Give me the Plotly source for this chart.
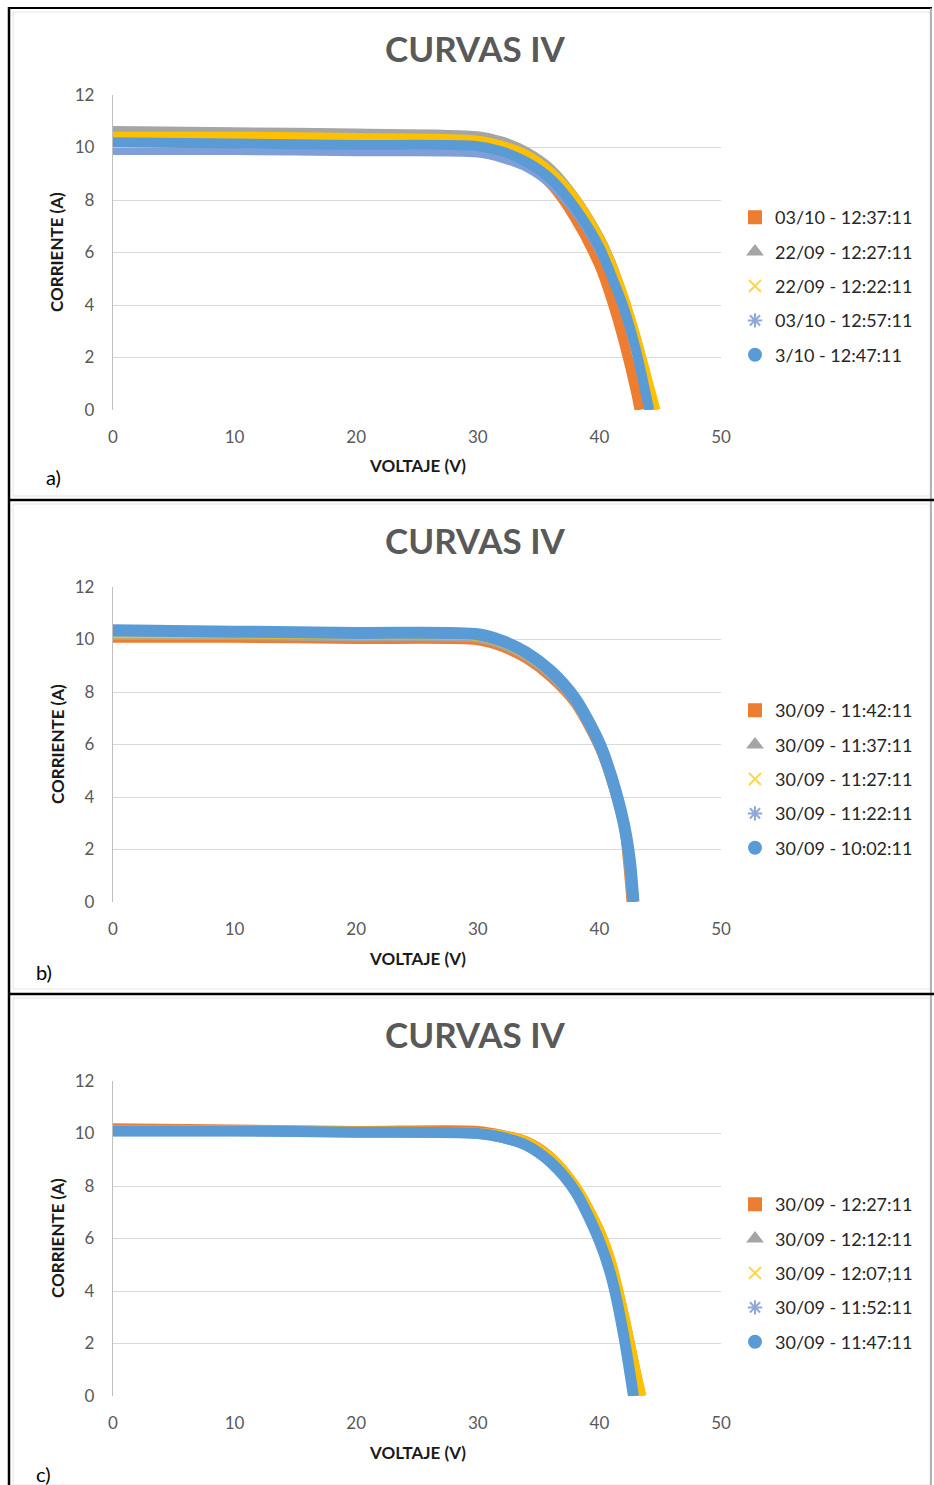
import plotly.graph_objects as go

W, H = 934, 1485

# ---------------- data ----------------
# Panel a
a_names = ["03/10 - 12:37:11", "22/09 - 12:27:11", "22/09 - 12:22:11", "03/10 - 12:57:11", "3/10 - 12:47:11"]
a_v_orange = [0, 10, 20, 30, 32, 34, 36, 38, 40, 41, 42, 43, 43.3]
a_i_orange = [10.35, 10.3, 10.25, 10.15, 9.9, 9.4, 8.6, 7.3, 5.5, 4.2, 2.6, 0.7, 0]
a_v_grey = [0, 10, 20, 30, 32, 34, 36, 38, 40, 41, 42, 43, 44, 44.5]
a_i_grey = [10.65, 10.6, 10.55, 10.45, 10.25, 9.85, 9.2, 8.1, 6.6, 5.6, 4.3, 2.8, 1.0, 0]
a_v_yellow = [0, 10, 20, 30, 32, 34, 36, 38, 40, 41, 42, 43, 44, 44.7]
a_i_yellow = [10.45, 10.45, 10.4, 10.3, 10.1, 9.75, 9.1, 8.1, 6.6, 5.6, 4.4, 2.9, 1.2, 0]
a_v_cross = [0, 10, 20, 30, 32, 34, 36, 38, 40, 41, 42, 43, 44]
a_i_cross = [9.85, 9.85, 9.8, 9.75, 9.55, 9.2, 8.55, 7.5, 6.0, 5.0, 3.7, 2.2, 0]
a_v_blue = [0, 10, 20, 30, 32, 34, 36, 38, 40, 41, 42, 43, 44.1]
a_i_blue = [10.2, 10.15, 10.1, 10.05, 9.85, 9.45, 8.8, 7.7, 6.2, 5.1, 3.9, 2.3, 0]

# Panel b
b_names = ["30/09 - 11:42:11", "30/09 - 11:37:11", "30/09 - 11:27:11", "30/09 - 11:22:11", "30/09 - 10:02:11"]
b_v_orange = [0, 10, 20, 30, 32, 34, 36, 38, 40, 41, 42, 42.3, 42.6]
b_i_orange = [10.05, 10.05, 10.0, 9.95, 9.7, 9.25, 8.55, 7.55, 5.85, 4.55, 2.8, 1.6, 0]
b_v_grey = [0, 10, 20, 30, 32, 34, 36, 38, 40, 41, 42, 42.35, 42.65]
b_i_grey = [10.15, 10.15, 10.1, 10.05, 9.8, 9.35, 8.65, 7.6, 5.9, 4.6, 2.85, 1.6, 0]
b_v_yellow = [0, 10, 20, 30, 32, 34, 36, 38, 40, 41, 42, 42.4, 42.7]
b_i_yellow = [10.2, 10.2, 10.15, 10.1, 9.85, 9.4, 8.7, 7.65, 5.95, 4.65, 2.9, 1.6, 0]
b_v_cross = [0, 10, 20, 30, 32, 34, 36, 38, 40, 41, 42, 42.45, 42.75]
b_i_cross = [10.25, 10.25, 10.2, 10.15, 9.9, 9.45, 8.75, 7.7, 6.0, 4.7, 2.95, 1.6, 0]
b_v_blue = [0, 10, 20, 30, 32, 34, 36, 38, 40, 41, 42, 42.5, 42.8]
b_i_blue = [10.35, 10.3, 10.25, 10.2, 9.95, 9.5, 8.8, 7.75, 6.05, 4.75, 3.0, 1.6, 0]

# Panel c
c_names = ["30/09 - 12:27:11", "30/09 - 12:12:11", "30/09 - 12:07;11", "30/09 - 11:52:11", "30/09 - 11:47:11"]
c_v_orange = [0, 10, 20, 30, 32, 34, 36, 38, 40, 41, 42, 43, 43.4]
c_i_orange = [10.2, 10.15, 10.1, 10.1, 9.95, 9.7, 9.1, 8.0, 6.3, 5.0, 3.1, 0.9, 0]
c_v_grey = [0, 10, 20, 30, 32, 34, 36, 38, 40, 41, 42, 43.0]
c_i_grey = [10.1, 10.1, 10.05, 10.0, 9.85, 9.6, 8.95, 7.85, 6.0, 4.7, 2.6, 0]
c_v_yellow = [0, 10, 20, 30, 32, 34, 36, 38, 40, 41, 42, 43, 43.5]
c_i_yellow = [10.15, 10.15, 10.1, 10.05, 9.95, 9.7, 9.1, 8.05, 6.35, 5.1, 3.2, 1.0, 0]
c_v_cross = [0, 10, 20, 30, 32, 34, 36, 38, 40, 41, 42, 42.8]
c_i_cross = [10.05, 10.05, 10.0, 9.95, 9.8, 9.5, 8.85, 7.75, 5.85, 4.45, 2.25, 0]
c_v_blue = [0, 10, 20, 30, 32, 34, 36, 38, 40, 41, 42, 42.8]
c_i_blue = [10.1, 10.1, 10.05, 10.0, 9.85, 9.55, 8.9, 7.8, 5.9, 4.5, 2.3, 0]

x_ticks = [0, 10, 20, 30, 40, 50]
y_ticks = [0, 2, 4, 6, 8, 10, 12]

# ---------------- styling ----------------
COL = {"orange": "#ED7D31", "grey": "#A5A5A5", "yellow": "#FFC000",
       "cross": "#7F9FD8", "blue": "#5B9BD5"}
LEG_SYM = {"orange": "square", "grey": "triangle-up", "yellow": "x-thin-open",
           "cross": "asterisk-open", "blue": "circle"}
LEG_COL = {"orange": "#ED7D31", "grey": "#A5A5A5", "yellow": "#FFD54F",
           "cross": "#8FA8D8", "blue": "#5B9BD5"}
FONT = "Lato, 'Open Sans', sans-serif"

def py(px):
    return 1 - px / H

def px_x(px):
    return px / W

x_dom = [px_x(113), px_x(721)]
panels = [
    dict(top=95, bot=410, names=a_names, legy=203, widths=[10, 9, 8, 7, 10],
         data=[(a_v_orange, a_i_orange), (a_v_grey, a_i_grey), (a_v_yellow, a_i_yellow),
               (a_v_cross, a_i_cross), (a_v_blue, a_i_blue)]),
    dict(top=587, bot=902, names=b_names, legy=696, widths=[9, 9, 8, 7, 12],
         data=[(b_v_orange, b_i_orange), (b_v_grey, b_i_grey), (b_v_yellow, b_i_yellow),
               (b_v_cross, b_i_cross), (b_v_blue, b_i_blue)]),
    dict(top=1081, bot=1396, names=c_names, legy=1190, widths=[10, 9, 9, 8, 11],
         data=[(c_v_orange, c_i_orange), (c_v_grey, c_i_grey), (c_v_yellow, c_i_yellow),
               (c_v_cross, c_i_cross), (c_v_blue, c_i_blue)]),
]
keys = ["orange", "grey", "yellow", "cross", "blue"]

fig = go.Figure()
annotations = []
shapes = []

for p_i, p in enumerate(panels):
    sfx = "" if p_i == 0 else str(p_i + 1)
    xa, ya = "x" + sfx, "y" + sfx
    leg = "legend" + sfx
    for k, name, (vv, ii), w in zip(keys, p["names"], p["data"], p["widths"]):
        fig.add_trace(go.Scatter(x=vv, y=ii, mode="lines", xaxis=xa, yaxis=ya,
                                 line=dict(color=COL[k], width=w, shape="spline", smoothing=0.8),
                                 showlegend=False, hoverinfo="skip"))
        fig.add_trace(go.Scatter(x=[None], y=[None], mode="markers", xaxis=xa, yaxis=ya,
                                 name=name, legend=leg, legendgroup=name + leg,
                                 marker=dict(symbol=LEG_SYM[k], color=LEG_COL[k], size=9,
                                             line=dict(color=LEG_COL[k], width=1))))
    ydom = [py(p["bot"]), py(p["top"])]
    fig.layout["xaxis" + sfx] = dict(domain=x_dom, range=[0, 50], tickvals=x_ticks,
                                     showgrid=False, zeroline=False, showline=False,
                                     ticks="", ticklabelstandoff=15, anchor=ya,
                                     tickfont=dict(family=FONT, size=17, color="#595959"))
    fig.layout["yaxis" + sfx] = dict(domain=ydom, range=[0, 12], tickvals=y_ticks,
                                     showgrid=True, gridcolor="#D9D9D9", gridwidth=1.3,
                                     zeroline=False, showline=True, linecolor="#BFBFBF",
                                     linewidth=1.3, ticks="", ticklabelstandoff=14, anchor=xa,
                                     tickfont=dict(family=FONT, size=17, color="#595959"))
    fig.layout[leg] = dict(x=px_x(735), y=py(p["legy"] - 4), xanchor="left", yanchor="top",
                           bgcolor="rgba(0,0,0,0)", tracegroupgap=8, itemsizing="constant",
                           traceorder="grouped",
                           font=dict(family=FONT, size=18, color="#262626"))
    off = p["top"] - 95
    annotations += [
        dict(text="<b>CURVAS IV</b>", x=px_x(476), y=py(48 + off), xref="paper", yref="paper",
             xanchor="center", yanchor="middle",
             showarrow=False, font=dict(family=FONT, size=35, color="#595959")),
        dict(text="<b>CORRIENTE (A)</b>", x=px_x(57), y=py(252 + off), xref="paper", yref="paper",
             xanchor="center", yanchor="middle",
             showarrow=False, textangle=-90, font=dict(family=FONT, size=17, color="#1a1a1a")),
        dict(text="<b>VOLTAJE (V)</b>", x=px_x(417), y=py(466 + off), xref="paper", yref="paper",
             xanchor="center", yanchor="middle",
             showarrow=False, font=dict(family=FONT, size=17, color="#1a1a1a")),
    ]

annotations += [
    dict(text="a)", x=px_x(44), y=py(477), xref="paper", yref="paper", showarrow=False,
         xanchor="left", yanchor="middle", font=dict(family=FONT, size=20, color="#000")),
    dict(text="b)", x=px_x(34), y=py(972), xref="paper", yref="paper", showarrow=False,
         xanchor="left", yanchor="middle", font=dict(family=FONT, size=20, color="#000")),
    dict(text="c)", x=px_x(34), y=py(1474), xref="paper", yref="paper", showarrow=False,
         xanchor="left", yanchor="middle", font=dict(family=FONT, size=20, color="#000")),
]

def line(x0, y0, x1, y1, color, width):
    return dict(type="line", xref="paper", yref="paper", x0=px_x(x0), y0=py(y0),
                x1=px_x(x1), y1=py(y1), line=dict(color=color, width=width), layer="above")

# light chart-area frames
for t, b in [(12, 496), (504, 989), (998, 1485)]:
    shapes.append(dict(type="rect", xref="paper", yref="paper", x0=px_x(13), y0=py(b),
                       x1=px_x(930), y1=py(t), line=dict(color="#E4E4E4", width=1), layer="below"))
shapes += [
    line(9, 8, 932, 8, "#000", 2),
    line(9, 7, 9, 1485, "#000", 2.5),
    line(931, 8, 931, 1485, "#9A9A9A", 1.5),
    line(9, 500, 934, 500, "#000", 2.5),
    line(9, 994, 934, 994, "#000", 2.5),
]

fig.update_layout(width=W, height=H, margin=dict(l=0, r=0, t=0, b=0, autoexpand=False),
                  paper_bgcolor="white", plot_bgcolor="white",
                  annotations=annotations, shapes=shapes)
fig.write_html("out.html", config={"displayModeBar": False},
               post_script="document.body.style.margin='0';document.body.style.padding='0';"
                           "document.documentElement.style.overflow='hidden';")
